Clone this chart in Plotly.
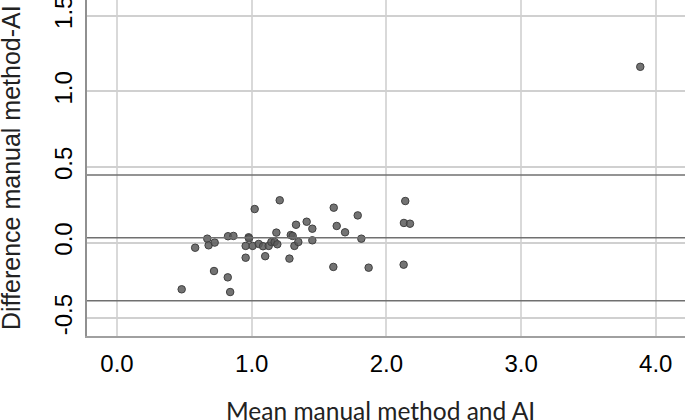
import plotly.graph_objects as go

# mean of the two methods (x) and their difference (y)
mean_vals = [0.48, 0.58, 0.67, 0.68, 0.725, 0.72, 0.824, 0.864, 0.822, 0.84,
             0.955, 0.955, 0.977, 0.98, 1.007, 1.022, 1.052, 1.084, 1.10, 1.126,
             1.146, 1.17, 1.19, 1.183, 1.208, 1.28, 1.29, 1.304, 1.317, 1.329,
             1.346, 1.408, 1.45, 1.45, 1.609, 1.606, 1.631, 1.693, 1.787, 1.814,
             1.868, 2.14, 2.13, 2.175, 2.128, 3.885]
diff_vals = [-0.309, -0.034, 0.026, -0.018, 0.0, -0.188, 0.042, 0.044, -0.23, -0.327,
             -0.022, -0.1, 0.035, 0.028, -0.022, 0.222, -0.009, -0.024, -0.09, -0.022,
             0.004, 0.004, -0.011, 0.066, 0.28, -0.106, 0.05, 0.044, -0.022, 0.118,
             0.004, 0.138, 0.092, 0.015, 0.231, -0.161, 0.11, 0.068, 0.18, 0.026,
             -0.166, 0.275, 0.13, 0.125, -0.146, 1.163]

mean_diff = 0.032
upper_loa = 0.447
lower_loa = -0.384

x_ticks = [0, 1, 2, 3, 4]
x_labels = ["0.0", "1.0", "2.0", "3.0", "4.0"]
y_ticks = [-0.5, 0, 0.5, 1.0, 1.5]
y_labels = ["-0.5", "0.0", "0.5", "1.0", "1.5"]
y_range = [-0.618, 1.605]

fig = go.Figure()

fig.add_trace(go.Scatter(
    x=mean_vals, y=diff_vals, mode="markers",
    marker=dict(size=7.5, color="rgba(90,90,90,0.85)", line=dict(width=1, color="#404040")),
    showlegend=False, cliponaxis=False
))

# top gridline (1.5) kept going missing, draw it on top in paper coords
top_frac = (y_ticks[-1] - y_range[0]) / (y_range[1] - y_range[0])
fig.add_shape(type="line", xref="paper", x0=0, x1=1, yref="paper", y0=top_frac, y1=top_frac,
              line=dict(color="#d0d0d0", width=1.5), layer="above")

for yv in [upper_loa, mean_diff, lower_loa]:
    fig.add_hline(y=yv, line=dict(color="#707070", width=1.5))

fig.update_layout(
    width=685, height=420,
    margin=dict(l=87, r=0, t=0, b=84),
    plot_bgcolor="white", paper_bgcolor="white",
    font=dict(family="Liberation Sans, Arial", color="#000000"),
)

fig.update_xaxes(
    range=[-0.223, 4.217], tickvals=x_ticks, ticktext=x_labels,
    showgrid=True, gridcolor="#d9d9d9", gridwidth=1.5,
    zeroline=False, showline=True, linecolor="#a0a0a0", linewidth=1.5,
    ticks="", tickfont=dict(size=24), ticklabelstandoff=5, automargin=False,
    ticklabeloverflow="allow",
)
fig.update_yaxes(
    range=y_range, tickvals=y_ticks, ticktext=y_labels,
    showgrid=True, gridcolor="#d0d0d0", gridwidth=1.5,
    zeroline=False, showline=True, linecolor="#909090", linewidth=2,
    ticks="", tickfont=dict(size=24), tickangle=-90, ticklabelstandoff=3,
    automargin=False, ticklabeloverflow="allow",
)

# axis titles placed as annotations for exact pixel positions
fig.add_annotation(
    text="Mean manual method and AI", xref="paper", yref="paper",
    x=(380 - 87) / 598, y=0, yshift=-74, xanchor="center", yanchor="middle",
    showarrow=False, font=dict(family="Lato, Open Sans", size=24.5, color="#222222"),
)
fig.add_annotation(
    text="Difference manual method-AI", xref="paper", yref="paper",
    x=0, y=(336 - 168) / 336, xshift=-76, xanchor="center", yanchor="middle",
    textangle=-90, showarrow=False,
    font=dict(family="Liberation Sans, Arial", size=25, color="#222222"),
)

# page has a default 8px body margin; drop it so the figure sits at 0,0
fig.write_html("out.html", config={"displayModeBar": False},
               post_script="document.body.style.margin='0';")
